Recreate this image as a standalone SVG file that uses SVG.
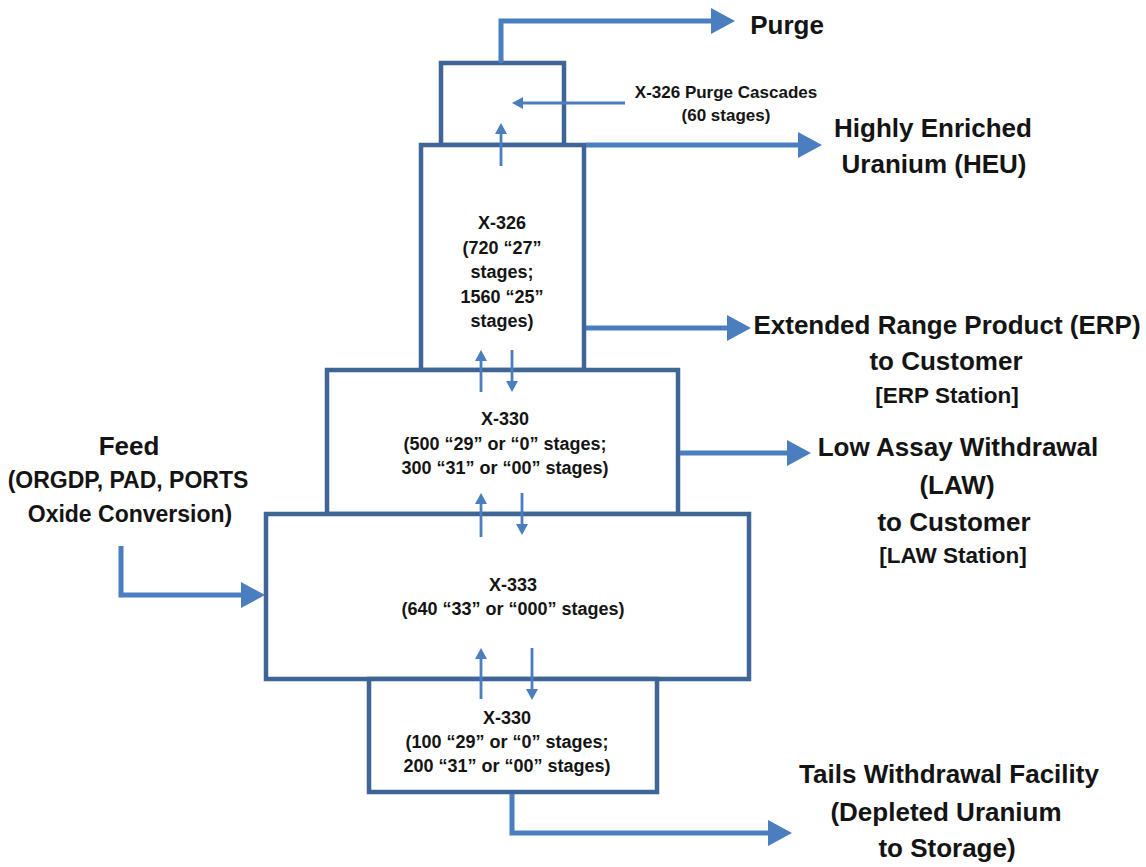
<svg xmlns="http://www.w3.org/2000/svg" width="1146" height="867" viewBox="0 0 1146 867">
  <style>
    .box { fill: #ffffff; stroke: #3F6496; stroke-width: 4.5; }
    .flow { fill: none; stroke: #4A7EBF; stroke-width: 5; }
    .link { fill: none; stroke: #4A7EBF; stroke-width: 2.8; }
    text { font-family: "Liberation Sans", Arial, sans-serif; font-weight: bold; fill: #141414; text-anchor: middle; }
    .lbl { font-size: 26px; }
    .sub { font-size: 22.5px; }
    .inner { font-size: 18px; }
  </style>
  <defs>
    <marker id="bigHead" markerUnits="userSpaceOnUse" markerWidth="24" markerHeight="26" refX="14" refY="13" orient="auto">
      <path d="M0,0 L24,13 L0,26 Z" fill="#4A7EBF"/>
    </marker>
    <marker id="smallHead" markerUnits="userSpaceOnUse" markerWidth="11" markerHeight="12" refX="5" refY="6" orient="auto">
      <path d="M0,0 L11,6 L0,12 Z" fill="#4A7EBF"/>
    </marker>
  </defs>

  <!-- cascade buildings, stacked -->
  <g id="purge-cascades">
    <rect class="box" x="441" y="63" width="123" height="82"/>
  </g>
  <g id="x326">
    <rect class="box" x="421" y="145" width="163" height="225"/>
    <text class="inner" x="502" y="229">X-326</text>
    <text class="inner" x="502" y="253.5">(720 “27”</text>
    <text class="inner" x="502" y="278">stages;</text>
    <text class="inner" x="502" y="302.5">1560 “25”</text>
    <text class="inner" x="502" y="327">stages)</text>
  </g>
  <g id="x330-upper">
    <rect class="box" x="327" y="370" width="351" height="144"/>
    <text class="inner" x="505" y="425">X-330</text>
    <text class="inner" x="505" y="450">(500 “29” or “0” stages;</text>
    <text class="inner" x="505" y="474">300 “31” or “00” stages)</text>
  </g>
  <g id="x333">
    <rect class="box" x="266" y="514" width="483" height="165"/>
    <text class="inner" x="513" y="591">X-333</text>
    <text class="inner" x="513" y="615">(640 “33” or “000” stages)</text>
  </g>
  <g id="x330-lower">
    <rect class="box" x="369" y="679" width="288" height="113"/>
    <text class="inner" x="507" y="724">X-330</text>
    <text class="inner" x="507" y="748">(100 “29” or “0” stages;</text>
    <text class="inner" x="507" y="772">200 “31” or “00” stages)</text>
  </g>

  <!-- stream labels -->
  <g id="purge-label">
    <text class="lbl" x="787" y="34">Purge</text>
  </g>
  <g id="purge-cascades-label">
    <text x="726" y="98" style="font-size:17px">X-326 Purge Cascades</text>
    <text x="726" y="121" style="font-size:17px">(60 stages)</text>
  </g>
  <g id="heu-label">
    <text class="lbl" x="933" y="137">Highly Enriched</text>
    <text class="lbl" x="934" y="173">Uranium (HEU)</text>
  </g>
  <g id="erp-label">
    <text class="lbl" x="947" y="334">Extended Range Product (ERP)</text>
    <text class="lbl" x="946" y="370">to Customer</text>
    <text class="sub" x="947" y="403">[ERP Station]</text>
  </g>
  <g id="law-label">
    <text class="lbl" x="958" y="456">Low Assay Withdrawal</text>
    <text class="lbl" x="957" y="494">(LAW)</text>
    <text class="lbl" x="954" y="531">to Customer</text>
    <text class="sub" x="953" y="563">[LAW Station]</text>
  </g>
  <g id="feed-label">
    <text class="lbl" x="129" y="455">Feed</text>
    <text x="128" y="488" style="font-size:23px">(ORGDP, PAD, PORTS</text>
    <text x="130" y="522" style="font-size:23px">Oxide Conversion)</text>
  </g>
  <g id="tails-label">
    <text class="lbl" x="949" y="783">Tails Withdrawal Facility</text>
    <text class="lbl" x="946" y="821">(Depleted Uranium</text>
    <text class="lbl" x="947" y="857">to Storage)</text>
  </g>

  <!-- process streams and inter-building flows -->
  <g id="connectors">
    <path class="flow" d="M501,63 V21 H725" marker-end="url(#bigHead)"/>
    <path class="flow" d="M586,145 H812" marker-end="url(#bigHead)"/>
    <path class="flow" d="M586,328 H741" marker-end="url(#bigHead)"/>
    <path class="flow" d="M680,453 H801" marker-end="url(#bigHead)"/>
    <path class="flow" d="M121,546 V595 H255" marker-end="url(#bigHead)"/>
    <path class="flow" d="M512,794 V833 H782" marker-end="url(#bigHead)"/>

    <path class="link" d="M625,103 H518" marker-end="url(#smallHead)"/>
    <path class="link" d="M501,166 V129" marker-end="url(#smallHead)"/>
    <path class="link" d="M481,392 V356" marker-end="url(#smallHead)"/>
    <path class="link" d="M512,350 V386" marker-end="url(#smallHead)"/>
    <path class="link" d="M481,537 V499" marker-end="url(#smallHead)"/>
    <path class="link" d="M522,493 V529" marker-end="url(#smallHead)"/>
    <path class="link" d="M481,699 V654" marker-end="url(#smallHead)"/>
    <path class="link" d="M532,648 V694" marker-end="url(#smallHead)"/>
  </g>
</svg>
